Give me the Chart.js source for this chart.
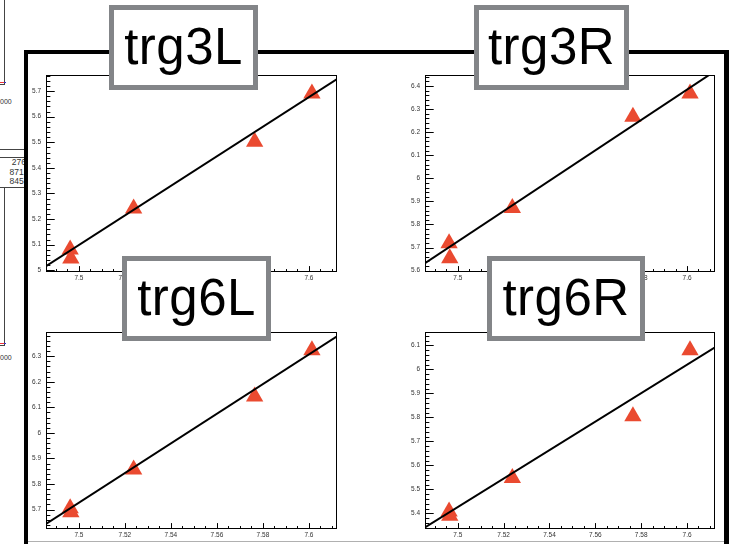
<!DOCTYPE html>
<html>
<head>
<meta charset="utf-8">
<script src="https://cdn.jsdelivr.net/npm/chart.js@4"></script>
<style>
  html, body { margin: 0; padding: 0; background: #fff; }
  body { width: 744px; height: 544px; position: relative; overflow: hidden; font-family: "Liberation Sans", Arial, sans-serif; }
  canvas.panel { position: absolute; z-index: 2; }
  .bar { position: absolute; background: #000; z-index: 1; }
  .thin { position: absolute; z-index: 1; }
  .tag { position: absolute; z-index: 5; box-sizing: border-box; border: 5px solid #838588; background: #fff;
         display: flex; align-items: center; justify-content: center;
         font-family: "Liberation Sans", Arial, sans-serif; font-size: 51px; color: #000; letter-spacing: 0.5px; }
  .tag span { position: relative; top: -1px; }
  .frag { position: absolute; font-family: "Liberation Sans", Arial, sans-serif; color: #333; z-index: 0; white-space: nowrap; }
</style>
</head>
<body>

<!-- fragments of the neighbouring canvas on the left -->
<div class="thin" style="left:4px;top:0;width:1px;height:84px;background:#444;"></div>
<div class="thin" style="left:0;top:84px;width:5px;height:1px;background:#444;"></div>
<div class="thin" style="left:0;top:82px;width:4px;height:1px;background:#e33;"></div>
<div class="thin" style="left:4px;top:82px;width:2px;height:1px;background:#33c;"></div>
<div class="frag" style="left:0;top:98px;font-size:7px;">000</div>
<div class="thin" style="left:0;top:149px;width:24px;height:1px;background:#444;"></div>
<div class="thin" style="left:0;top:157px;width:24px;height:1px;background:#444;"></div>
<div class="thin" style="left:0;top:187px;width:24px;height:1px;background:#444;"></div>
<div class="frag" style="right:718px;top:158px;font-size:8.5px;line-height:9.5px;text-align:right;">276<br>871.<br>845.</div>
<div class="thin" style="left:4px;top:187px;width:1px;height:158px;background:#444;"></div>
<div class="thin" style="left:0;top:345px;width:5px;height:1px;background:#444;"></div>
<div class="thin" style="left:0;top:343px;width:4px;height:1px;background:#e33;"></div>
<div class="thin" style="left:4px;top:343px;width:2px;height:1px;background:#33c;"></div>
<div class="frag" style="left:0;top:354px;font-size:7px;">000</div>

<!-- outer pad frame -->
<div class="bar" style="left:24px;top:50px;width:705px;height:4px;"></div>
<div class="bar" style="left:24px;top:50px;width:4px;height:494px;"></div>
<div class="bar" style="left:724px;top:50px;width:5px;height:494px;"></div>
<div class="thin" style="left:28px;top:541px;width:696px;height:1px;background:#b0b0b0;"></div>

<canvas id="c3L" class="panel"></canvas>
<canvas id="c3R" class="panel"></canvas>
<canvas id="c6L" class="panel"></canvas>
<canvas id="c6R" class="panel"></canvas>

<div class="tag" style="left:109px;top:5px;width:149px;height:85px;"><span>trg3L</span></div>
<div class="tag" style="left:474px;top:5px;width:155px;height:85px;"><span>trg3R</span></div>
<div class="tag" style="left:122px;top:256px;width:149px;height:85px;"><span>trg6L</span></div>
<div class="tag" style="left:487px;top:256px;width:158px;height:85px;"><span>trg6R</span></div>

<script>
// measured points: shared x positions, one y series per trigger
const runX = [7.4962, 7.4965, 7.5238, 7.5764, 7.6013];
const trg3L = [5.081, 5.046, 5.241, 5.502, 5.691];
const trg3R = [5.719, 5.654, 5.871, 6.267, 6.368];
const trg6L = [5.705, 5.690, 5.857, 6.143, 6.324];
const trg6R = [5.408, 5.390, 5.548, 5.805, 6.080];

// straight-line fits, evaluated at the two ends of the x axis
const fitX = [7.4857, 7.6122];
const fit3L = [5.016, 5.747];
const fit3R = [5.632, 6.465];
const fit6L = [5.644, 6.378];
const fit6R = [5.342, 6.092];

// axis ranges
const xRange = [7.4857, 7.6122];
const yRange3L = [4.993, 5.763];
const yRange3R = [5.594, 6.448];
const yRange6L = [5.624, 6.395];
const yRange6R = [5.335, 6.156];

const X_MAJOR = 0.02, X_SUB = 4;
const Y_MAJOR = 0.1, Y_SUB = 5;

const fmt = v => String(parseFloat(Number(v).toFixed(3)));

// frame box plus inward major/minor ticks on the left and bottom axes
const rootFrame = {
  id: 'rootFrame',
  beforeDatasetsDraw(chart) {
    const ctx = chart.ctx;
    const a = chart.chartArea;
    const xs = chart.scales.x, ys = chart.scales.y;
    const w = a.right - a.left, h = a.bottom - a.top;
    ctx.save();
    ctx.strokeStyle = '#000';
    ctx.lineWidth = 1;
    ctx.strokeRect(Math.round(a.left) + 0.5, Math.round(a.top) + 0.5,
                   Math.round(w) - 1, Math.round(h) - 1);
    const marks = [];
    const yStep = Y_MAJOR / Y_SUB;
    for (let k = Math.ceil(ys.min / yStep - 1e-6); k * yStep <= ys.max + 1e-9; k++) {
      const p = Math.round(ys.getPixelForValue(k * yStep)) + 0.5;
      const len = (k % Y_SUB === 0) ? 0.03 * w : 0.015 * w;
      marks.push([a.left, p, a.left + len, p]);
    }
    const xStep = X_MAJOR / X_SUB;
    for (let k = Math.ceil(xs.min / xStep - 1e-6); k * xStep <= xs.max + 1e-9; k++) {
      const p = Math.round(xs.getPixelForValue(k * xStep)) + 0.5;
      const len = (k % X_SUB === 0) ? 0.03 * h : 0.015 * h;
      marks.push([p, a.bottom, p, a.bottom - len]);
    }
    ctx.beginPath();
    for (const m of marks) { ctx.moveTo(m[0], m[1]); ctx.lineTo(m[2], m[3]); }
    ctx.stroke();
    ctx.restore();
  }
};

function makePanel(id, box, yVals, fit, yRange) {
  // label widths and overhangs around the plotting area
  const PADL = 40, PADT = 10, PADR = 10, PADB = 16;
  const cv = document.getElementById(id);
  cv.width = box.w + PADL + PADR;
  cv.height = box.h + PADT + PADB;
  cv.style.width = cv.width + 'px';
  cv.style.height = cv.height + 'px';
  cv.style.left = (box.x - PADL) + 'px';
  cv.style.top = (box.y - PADT) + 'px';

  const labelFont = { family: '"Liberation Sans", Arial, sans-serif', size: 6.5 };
  const chart = new Chart(cv, {
    type: 'scatter',
    data: {
      datasets: [
        {
          type: 'line',
          data: fitX.map((xv, i) => ({ x: xv, y: fit[i] })),
          borderColor: '#000',
          borderWidth: 2,
          pointRadius: 0,
          tension: 0,
          order: 0
        },
        {
          data: runX.map((xv, i) => ({ x: xv, y: yVals[i] })),
          pointStyle: 'triangle',
          pointRadius: 10,
          backgroundColor: '#ea4a30',
          borderWidth: 0,
          order: 1
        }
      ]
    },
    options: {
      responsive: false,
      maintainAspectRatio: false,
      animation: false,
      devicePixelRatio: 1,
      layout: { padding: { left: 0, top: 6, right: 6, bottom: 0 } },
      plugins: { legend: { display: false }, tooltip: { enabled: false } },
      scales: {
        x: {
          type: 'linear',
          min: xRange[0], max: xRange[1],
          grid: { display: false, drawTicks: false },
          border: { display: false },
          ticks: { stepSize: X_MAJOR, includeBounds: false, autoSkip: false, maxRotation: 0,
                   padding: 2, font: labelFont, color: '#333', callback: v => fmt(v) },
          afterFit: s => { s.height = PADB; }
        },
        y: {
          type: 'linear',
          min: yRange[0], max: yRange[1],
          grid: { display: false, drawTicks: false },
          border: { display: false },
          ticks: { stepSize: Y_MAJOR, includeBounds: false, autoSkip: false,
                   padding: 5, font: labelFont, color: '#333', callback: v => fmt(v) },
          afterFit: s => { s.width = PADL; }
        }
      }
    },
    plugins: [rootFrame]
  });
  // pin the plotting area to its place on the page
  const a = chart.chartArea;
  cv.style.left = (box.x - a.left) + 'px';
  cv.style.top = (box.y - a.top) + 'px';
}

makePanel('c3L', { x: 46, y: 75, w: 291, h: 197 }, trg3L, fit3L, yRange3L);
makePanel('c3R', { x: 425, y: 75, w: 290, h: 197 }, trg3R, fit3R, yRange3R);
makePanel('c6L', { x: 46, y: 332, w: 291, h: 197 }, trg6L, fit6L, yRange6L);
makePanel('c6R', { x: 425, y: 332, w: 290, h: 197 }, trg6R, fit6R, yRange6R);
</script>
</body>
</html>
